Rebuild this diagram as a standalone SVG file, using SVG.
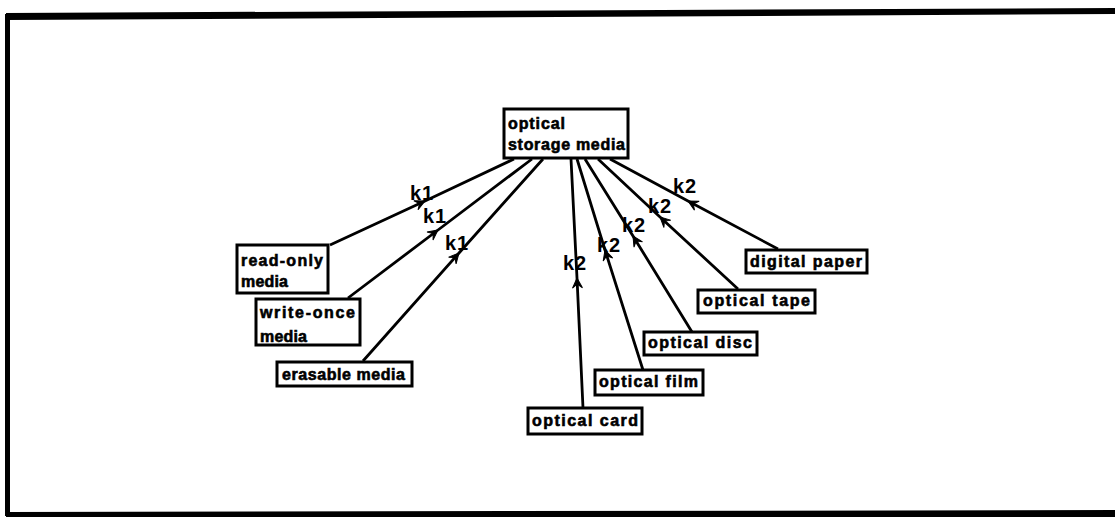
<svg xmlns="http://www.w3.org/2000/svg" width="1115" height="518" viewBox="0 0 1115 518">
<defs>
<style>
.box{fill:#fff;stroke:#000;stroke-width:3}
.t{font-family:"Liberation Sans",Arial,sans-serif;font-weight:bold;font-size:16px;fill:#000;stroke:#000;stroke-width:0.6}
.lbl{font-family:"Liberation Sans",Arial,sans-serif;font-weight:bold;font-size:20px;fill:#000;letter-spacing:1px}
.edge{fill:none;stroke:#000;stroke-width:2.8;marker-mid:url(#arr)}
</style>
<marker id="arr" markerUnits="userSpaceOnUse" markerWidth="14" markerHeight="14" viewBox="-11 -7 13 14" refX="0" refY="0" orient="auto">
<path d="M-10,-5 L0,0 L-10,5 L-6,0 z" fill="#000" stroke="#000" stroke-width="1"/>
</marker>
</defs>
<rect width="1115" height="518" fill="#fff"/>
<g id="frame">
<polygon points="6,13 1115,8 1115,14 6,20" fill="#000"/>
<rect x="5" y="14" width="5" height="502" fill="#000"/>
<polygon points="6,512 1115,510 1115,517 6,517" fill="#000"/>
</g>
<g id="connectors">
<path class="edge" d="M330,245 L425,201 L514,159"/>
<path class="edge" d="M348,298 L438,230 L532,159"/>
<path class="edge" d="M363,361 L459,253 L543,159"/>
<path class="edge" d="M583,408 L577,278 L571,159"/>
<path class="edge" d="M643,370 L605,250 L577,159"/>
<path class="edge" d="M692,332 L633,236 L585,159"/>
<path class="edge" d="M738,289 L660,217 L598,159"/>
<path class="edge" d="M778,249 L688,201 L610,159"/>
<text class="lbl" x="410" y="200">k1</text>
<text class="lbl" x="423" y="223">k1</text>
<text class="lbl" x="445" y="250">k1</text>
<text class="lbl" x="563" y="270">k2</text>
<text class="lbl" x="597" y="252">k2</text>
<text class="lbl" x="622" y="232">k2</text>
<text class="lbl" x="648" y="213">k2</text>
<text class="lbl" x="673" y="193">k2</text>
</g>
<g id="optical-storage-media">
<rect class="box" x="504" y="109" width="124" height="49"/>
<text class="t" x="508" y="129" textLength="57" lengthAdjust="spacing">optical</text>
<text class="t" x="508" y="150" textLength="117" lengthAdjust="spacing">storage media</text>
</g>
<g id="read-only-media">
<rect class="box" x="237" y="245" width="91" height="48"/>
<text class="t" x="241" y="266" textLength="82" lengthAdjust="spacing">read-only</text>
<text class="t" x="241" y="287" textLength="47" lengthAdjust="spacing">media</text>
</g>
<g id="write-once-media">
<rect class="box" x="256" y="299" width="104" height="46"/>
<text class="t" x="260" y="318" textLength="95" lengthAdjust="spacing">write-once</text>
<text class="t" x="260" y="342" textLength="47" lengthAdjust="spacing">media</text>
</g>
<g id="erasable-media">
<rect class="box" x="277" y="362" width="135" height="24"/>
<text class="t" x="282" y="380" textLength="123" lengthAdjust="spacing">erasable media</text>
</g>
<g id="optical-card">
<rect class="box" x="528" y="408" width="114" height="26"/>
<text class="t" x="532" y="426" textLength="106" lengthAdjust="spacing">optical card</text>
</g>
<g id="optical-film">
<rect class="box" x="595" y="370" width="108" height="25"/>
<text class="t" x="599" y="387" textLength="99" lengthAdjust="spacing">optical film</text>
</g>
<g id="optical-disc">
<rect class="box" x="644" y="332" width="113" height="23"/>
<text class="t" x="648" y="348" textLength="104" lengthAdjust="spacing">optical disc</text>
</g>
<g id="optical-tape">
<rect class="box" x="698" y="290" width="117" height="23"/>
<text class="t" x="703" y="306" textLength="107" lengthAdjust="spacing">optical tape</text>
</g>
<g id="digital-paper">
<rect class="box" x="746" y="250" width="121" height="23"/>
<text class="t" x="750" y="267" textLength="112" lengthAdjust="spacing">digital paper</text>
</g>
</svg>
